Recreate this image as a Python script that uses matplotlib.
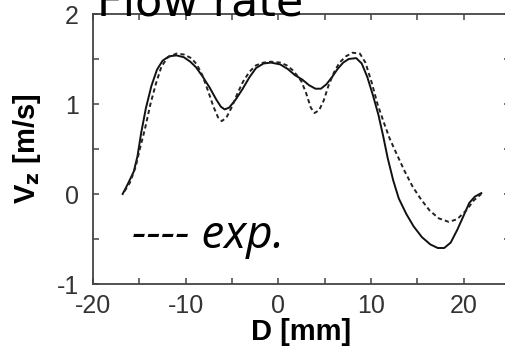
import matplotlib
matplotlib.use("Agg")
import matplotlib.pyplot as plt
from matplotlib.ticker import MultipleLocator

# simulation (solid line)
sim_d = [-16.8, -16.2, -15.6, -15.2, -14.8, -14.3, -13.7, -13.1, -12.5, -11.8,
         -11.0, -10.2, -9.5, -8.9, -8.2, -7.4, -6.7, -6.2, -5.8, -5.3,
         -4.6, -3.9, -3.1, -2.4, -1.6, -0.8, 0.2, 1.0, 1.8, 2.6,
         3.3, 4.0, 4.6, 5.2, 5.8, 6.4, 7.0, 7.6, 8.4, 9.0,
         9.6, 10.2, 10.8, 11.3, 11.8, 12.4, 13.0, 13.8, 14.6, 15.5,
         16.4, 17.2, 17.9, 18.6, 19.3, 20.0, 20.6, 21.2, 21.9]
sim_v = [0.00, 0.12, 0.25, 0.42, 0.68, 0.95, 1.20, 1.38, 1.48, 1.53,
         1.54, 1.52, 1.47, 1.41, 1.31, 1.18, 1.05, 0.97, 0.94, 0.96,
         1.05, 1.16, 1.30, 1.40, 1.45, 1.46, 1.44, 1.39, 1.32, 1.27,
         1.21, 1.17, 1.17, 1.22, 1.30, 1.39, 1.46, 1.50, 1.51, 1.45,
         1.30, 1.10, 0.88, 0.65, 0.40, 0.15, -0.05, -0.22, -0.36, -0.48,
         -0.56, -0.60, -0.60, -0.54, -0.40, -0.24, -0.10, -0.03, 0.01]

# experiment (dashed line)
exp_d = [-16.6, -16.0, -15.4, -14.9, -14.4, -13.8, -13.2, -12.6, -11.9, -11.0,
         -10.2, -9.4, -8.8, -8.2, -7.6, -7.0, -6.5, -6.1, -5.6, -5.0,
         -4.4, -3.8, -3.1, -2.4, -1.6, -0.8, 0.2, 0.9, 1.5, 2.0,
         2.5, 3.0, 3.5, 3.9, 4.4, 4.9, 5.4, 6.0, 6.6, 7.3,
         8.0, 8.8, 9.4, 10.1, 10.7, 11.4, 12.0, 12.7, 13.6, 14.5,
         15.4, 16.3, 17.3, 18.4, 19.3, 20.3, 21.1, 21.9]
exp_v = [0.03, 0.13, 0.30, 0.52, 0.72, 1.00, 1.23, 1.42, 1.52, 1.56,
         1.55, 1.51, 1.44, 1.32, 1.15, 0.97, 0.85, 0.81, 0.85, 0.97,
         1.12, 1.25, 1.36, 1.43, 1.46, 1.47, 1.46, 1.43, 1.38, 1.32,
         1.25, 1.12, 0.96, 0.90, 0.93, 1.04, 1.20, 1.35, 1.46, 1.53,
         1.57, 1.56, 1.46, 1.23, 1.00, 0.79, 0.62, 0.46, 0.26, 0.08,
         -0.06, -0.18, -0.27, -0.31, -0.28, -0.18, -0.07, 0.00]

fig = plt.figure(figsize=(5.06, 3.5), dpi=100)
ax = fig.add_axes([93 / 506, 66 / 350, 417 / 506, 270 / 350])

ax.plot(sim_d, sim_v, color="#111111", lw=1.4)
ax.plot(exp_d, exp_v, color="#222222", lw=1.4, dashes=(2.2, 1.6))

ax.set_xlim(-20, 25)
ax.set_ylim(-1, 2)
ax.xaxis.set_major_locator(MultipleLocator(10))
ax.xaxis.set_minor_locator(MultipleLocator(5))
ax.yaxis.set_major_locator(MultipleLocator(1))
ax.yaxis.set_minor_locator(MultipleLocator(0.5))

for s in ax.spines.values():
    s.set_color("#444444")
    s.set_linewidth(1.3)
ax.tick_params(which="both", direction="in", top=True, right=True,
               length=4, width=1.1, color="#444444")
ax.tick_params(which="major", labelsize=18, labelcolor="#333333")
ax.tick_params(axis="x", which="major", pad=7)
ax.tick_params(axis="y", which="major", pad=10)
ax.set_xticks([-20, -10, 0, 10, 20])
ax.set_xticklabels(["-20", "-10", "0", "10", "20"], family="Liberation Sans")
ax.set_yticks([-1, 0, 1, 2])
ax.set_yticklabels(["-1", "0", "1", "2"], family="Liberation Sans")

ax.set_xlabel("D [mm]", fontsize=21, fontweight="bold", family="Liberation Sans",
              labelpad=0)
ax.set_ylabel(r"V$_\mathbf{z}$ [m/s]", fontsize=21, fontweight="bold",
              family="Liberation Sans", labelpad=10)

fig.text(97 / 506, 1 - 15 / 350, "Flow rate", fontsize=32, family="DejaVu Sans",
         va="baseline", ha="left")
fig.text(132 / 506, 1 - 248 / 350, "---- exp.", fontsize=33, family="Open Sans",
         style="italic", va="baseline", ha="left")

fig.savefig("out.png", dpi=100)
